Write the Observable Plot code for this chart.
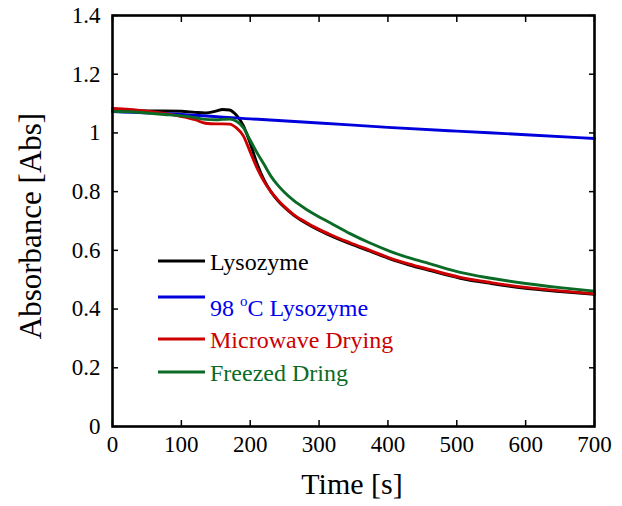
<!DOCTYPE html>
<html><head><meta charset="utf-8">
<script src="https://cdn.jsdelivr.net/npm/d3@7"></script>
<script src="https://cdn.jsdelivr.net/npm/@observablehq/plot@0.6"></script>
<style>body{margin:0;background:#fff} svg{display:block}</style>
</head><body><div id="chart"></div>
<script>
// ---- data ----
const time = [0, 25, 50, 75, 100, 120, 135, 150, 160, 170, 180, 190, 200, 210, 220, 230, 240, 250, 263, 280, 297, 316, 345, 374, 404, 430, 460, 505, 550, 600, 650, 700];
const lysozyme = [1.076, 1.076, 1.075, 1.075, 1.074, 1.070, 1.068, 1.074, 1.080, 1.078, 1.060, 1.025, 0.965, 0.895, 0.840, 0.800, 0.770, 0.746, 0.720, 0.694, 0.672, 0.651, 0.623, 0.597, 0.570, 0.551, 0.532, 0.505, 0.487, 0.471, 0.460, 0.450];
const microwave = [1.083, 1.080, 1.074, 1.066, 1.056, 1.045, 1.033, 1.031, 1.031, 1.030, 1.017, 0.990, 0.935, 0.880, 0.835, 0.800, 0.772, 0.748, 0.722, 0.697, 0.675, 0.654, 0.626, 0.600, 0.573, 0.554, 0.535, 0.508, 0.490, 0.474, 0.462, 0.452];
const freezed = [1.074, 1.072, 1.068, 1.063, 1.058, 1.052, 1.046, 1.045, 1.046, 1.047, 1.040, 1.018, 0.975, 0.932, 0.893, 0.853, 0.822, 0.797, 0.770, 0.742, 0.718, 0.694, 0.657, 0.625, 0.596, 0.575, 0.555, 0.525, 0.505, 0.487, 0.473, 0.461];
const heatedTime = [0, 100, 200, 300, 400, 500, 600, 700];
const heated = [1.073, 1.063, 1.048, 1.034, 1.019, 1.006, 0.994, 0.981];

const seriesNames = ["Lysozyme", "98 oC Lysozyme", "Microwave Drying", "Freezed Dring"];
const seriesColors = ["#000000", "#0000dd", "#cc0000", "#0b6b26"];
const xTicks = [0, 100, 200, 300, 400, 500, 600, 700];
const yTicks = [0, 0.2, 0.4, 0.6, 0.8, 1.0, 1.2, 1.4];

const FONT = "Liberation Serif, Times New Roman, serif";
const toRows = (ts, vs) => ts.map((t, i) => ({t, v: vs[i]}));
const lineOpts = (c) => ({x: "t", y: "v", stroke: c, strokeWidth: 2.9, curve: "monotone-x"});

const plot = Plot.plot({
  width: 622, height: 506,
  marginLeft: 112, marginRight: 28, marginTop: 15, marginBottom: 80,
  style: {fontSize: "22px", color: "#000", background: "#fff"},
  x: {domain: [0, 700]},
  y: {domain: [0, 1.4]},
  marks: [
    Plot.line(toRows(time, lysozyme), lineOpts(seriesColors[0])),
    Plot.line(toRows(heatedTime, heated), lineOpts(seriesColors[1])),
    Plot.line(toRows(time, microwave), lineOpts(seriesColors[2])),
    Plot.line(toRows(time, freezed), lineOpts(seriesColors[3])),
    Plot.axisX(xTicks, {anchor: "bottom", tickSize: -6, tickPadding: 15, strokeWidth: 1.5, label: null, fontSize: 23, fontVariant: "normal", tickFormat: d => String(d)}),
    Plot.axisX(xTicks, {anchor: "top", tickSize: -6, strokeWidth: 1.5, label: null, tickFormat: () => ""}),
    Plot.axisY(yTicks, {anchor: "left", tickSize: -6, tickPadding: 18, strokeWidth: 1.5, label: null, fontSize: 23, fontVariant: "normal", tickFormat: d3.format("~g")}),
    Plot.axisY(yTicks, {anchor: "right", tickSize: -6, strokeWidth: 1.5, label: null, tickFormat: () => ""}),
    Plot.frame({stroke: "#000", strokeWidth: 2.6})
  ]
});

const svg = d3.select(plot);
// axis titles
svg.append("text").attr("x", 352).attr("y", 494).attr("text-anchor", "middle")
  .attr("font-size", 30).attr("fill", "#000").text("Time [s]");
svg.append("text").attr("transform", "translate(41,226) rotate(-90)").attr("text-anchor", "middle")
  .attr("font-size", 31).attr("fill", "#000").text("Absorbance [Abs]");

// legend
const legY = [261, 297, 339, 372];
const legTextY = [270, 316, 348, 381];
const leg = svg.append("g").attr("font-size", 24).attr("text-anchor", "start");
seriesNames.forEach((name, i) => {
  leg.append("line").attr("x1", 158).attr("x2", 205).attr("y1", legY[i]).attr("y2", legY[i])
    .attr("stroke", seriesColors[i]).attr("stroke-width", 2.8);
  const t = leg.append("text").attr("x", 210).attr("y", legTextY[i]).attr("text-anchor", "start")
    .attr("fill", seriesColors[i] === "#0000dd" ? "#0000ee" : seriesColors[i]);
  if (name.startsWith("98 oC")) {
    t.append("tspan").text("98 ");
    t.append("tspan").attr("dy", -10).attr("font-size", 15).text("o");
    t.append("tspan").attr("dy", 10).text("C Lysozyme");
  } else {
    t.text(name);
  }
});

// serif face on every text node
svg.attr("font-family", FONT).style("font-family", FONT);
svg.selectAll("g").attr("font-family", FONT);
svg.selectAll("text").style("font-family", FONT).style("font-variant", "normal");

document.getElementById("chart").append(plot);
</script>
</body></html>
